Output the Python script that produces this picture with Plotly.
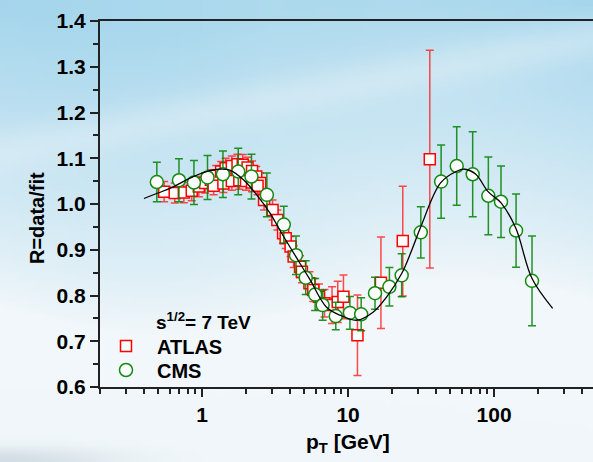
import numpy as np
import plotly.graph_objects as go
import zlib, struct, base64

# ---------------- data ----------------
cms_pt = [0.49, 0.695, 0.88, 1.09, 1.39, 1.77, 2.18, 2.78, 3.63, 4.4, 5.13, 5.95, 6.7,
          8.24, 10.3, 12.3, 15.3, 19.2, 23.3, 31.5, 43.4, 55.5, 71.4, 91.4, 111.6, 141.5, 182]
cms_r = [1.048, 1.052, 1.047, 1.058, 1.065, 1.071, 1.060, 1.020, 0.955, 0.888, 0.839, 0.802, 0.779,
         0.755, 0.762, 0.759, 0.805, 0.819, 0.844, 0.938, 1.049, 1.083, 1.065, 1.018, 1.005, 0.942, 0.832]
cms_err = [0.043, 0.047, 0.048, 0.048, 0.051, 0.051, 0.049, 0.048, 0.040, 0.042, 0.037, 0.035, 0.033,
           0.030, 0.036, 0.036, 0.035, 0.042, 0.047, 0.056, 0.080, 0.086, 0.093, 0.085, 0.078, 0.080, 0.098]

atlas_pt = [0.55, 0.65, 0.75, 0.85, 0.95, 1.05, 1.15, 1.25, 1.35, 1.45, 1.6, 1.75, 1.9, 2.05, 2.2, 2.35, 2.5,
            1.2, 1.4, 1.6, 1.8, 2.0, 2.2, 2.4,
            2.66, 3.04, 3.28, 3.59, 3.74, 4.04, 4.24, 4.69, 4.83, 5.44, 5.78, 6.32, 6.9, 7.77, 8.5, 9.3,
            11.6, 16.8, 23.7, 36.3]
atlas_r = [1.027, 1.024, 1.025, 1.029, 1.038, 1.046, 1.053, 1.062, 1.071, 1.078, 1.083, 1.087, 1.086, 1.080, 1.072, 1.060, 1.046,
           1.040, 1.045, 1.050, 1.052, 1.050, 1.047, 1.040,
           1.009, 0.987, 0.965, 0.936, 0.925, 0.907, 0.885, 0.863, 0.852, 0.827, 0.812, 0.797, 0.783, 0.779, 0.786, 0.797,
           0.713, 0.828, 0.919, 1.098]
atlas_err = [0.022, 0.022, 0.022, 0.022, 0.022, 0.022, 0.022, 0.022, 0.022, 0.022, 0.022, 0.022, 0.022, 0.022, 0.022, 0.022, 0.022,
             0.020, 0.020, 0.020, 0.020, 0.020, 0.020, 0.020,
             0.022, 0.022, 0.022, 0.022, 0.022, 0.022, 0.024, 0.024, 0.024, 0.025, 0.025, 0.028, 0.030, 0.040, 0.045, 0.048,
             0.088, 0.100, 0.120, 0.238]

fit_pt = [0.40, 0.50, 0.64, 0.87, 1.13, 1.30, 1.55, 1.92, 2.37, 2.92, 3.51, 4.69, 5.5, 7.1, 8.8, 11.5,
          14.9, 18.4, 23.3, 27.3, 31.5, 43, 55, 63, 75, 91, 112, 141, 182, 252]
fit_r = [1.012, 1.024, 1.038, 1.060, 1.073, 1.076, 1.074, 1.053, 1.020, 0.980, 0.936, 0.870, 0.834, 0.775, 0.757, 0.746,
         0.764, 0.797, 0.848, 0.899, 0.950, 1.046, 1.071, 1.076, 1.065, 1.027, 1.002, 0.947, 0.837, 0.772]

x_major = [1, 10, 100]
x_minor = [0.2, 0.3, 0.4, 0.5, 0.6, 0.7, 0.8, 0.9, 2, 3, 4, 5, 6, 7, 8, 9,
           20, 30, 40, 50, 60, 70, 80, 90, 200, 300, 400]

# ---------------- layout geometry ----------------
W, H = 593, 462
ML, MR, MT, MB = 100, 0, 21, 75
PW, PH = W - ML - MR, H - MT - MB
def px2x(px):
    return (px - ML) / PW
def px2y(py):
    return (H - MB - py) / PH

# decade = 146 px, x=1 at 202 px
x_lo = np.log10(0.2)
x_hi = x_lo + PW / 146.0

# ---------------- background (sky) ----------------
def sky_png(h=93, w=119):
    yy, xx = np.mgrid[0:h, 0:w]
    yy = yy / (h - 1); xx = xx / (w - 1)
    blue = np.array([163, 213, 236], float)
    white = np.array([241, 247, 250], float)
    t = np.clip((0.66 - yy + 0.06 * np.sin(xx * 6.0)) / 0.66, 0, 1) ** 0.85
    t = t * (0.85 + 0.15 * np.abs(xx - 0.45) / 0.55)
    img = white[None, None, :] * (1 - t[..., None]) + blue[None, None, :] * t[..., None]
    streak = np.exp(-((yy - 0.33 + 0.25 * xx) / 0.05) ** 2) * 0.35
    img = img * (1 - streak[..., None]) + white[None, None, :] * streak[..., None]
    g = np.exp(-((xx / 0.18) ** 2 + ((yy - 1.0) / 0.025) ** 2)) * 0.6
    grey = np.array([190, 205, 215], float)
    img = img * (1 - g[..., None]) + grey[None, None, :] * g[..., None]
    arr = np.clip(img, 0, 255).astype(np.uint8)
    raw = b''.join(b'\x00' + arr[i].tobytes() for i in range(h))
    def chunk(tag, data):
        c = struct.pack('>I', len(data)) + tag + data
        return c + struct.pack('>I', zlib.crc32(tag + data) & 0xffffffff)
    png = (b'\x89PNG\r\n\x1a\n' + chunk(b'IHDR', struct.pack('>IIBBBBB', w, h, 8, 2, 0, 0, 0))
           + chunk(b'IDAT', zlib.compress(raw, 9)) + chunk(b'IEND', b''))
    return 'data:image/png;base64,' + base64.b64encode(png).decode()

FONT = "Arial, 'Liberation Sans', sans-serif"
RED = '#ff0000'
GREEN = '#128a12'
LEGFONT = dict(size=20, family=FONT, color='black', weight='bold')

fig = go.Figure()
fig.add_trace(go.Scatter(
    x=atlas_pt, y=atlas_r, mode='markers', name='ATLAS', legend='legend',
    marker=dict(symbol='square', size=11, color='white', line=dict(color=RED, width=1.5)),
    error_y=dict(type='data', array=atlas_err, color='rgba(255,30,30,0.8)', thickness=1.5, width=4),
))
fig.add_trace(go.Scatter(
    x=cms_pt, y=cms_r, mode='markers', name='CMS', legend='legend2',
    marker=dict(symbol='circle', size=13, color='white', line=dict(color=GREEN, width=1.5)),
    error_y=dict(type='data', array=cms_err, color='rgba(0,128,0,0.85)', thickness=1.5, width=4),
))
fig.add_trace(go.Scatter(
    x=fit_pt, y=fit_r, mode='lines', showlegend=False,
    line=dict(color='black', width=1.3, shape='spline', smoothing=1.0),
))

leg_common = dict(xanchor='left', yanchor='middle', bgcolor='rgba(0,0,0,0)', borderwidth=0,
                  itemwidth=52, font=LEGFONT)

fig.update_layout(
    width=W, height=H,
    margin=dict(l=ML, r=MR, t=MT, b=MB, pad=0),
    paper_bgcolor='rgba(0,0,0,0)', plot_bgcolor='rgba(0,0,0,0)',
    font=dict(family=FONT, color='black'),
    showlegend=True,
    legend=dict(x=px2x(95), y=px2y(346), **leg_common),
    legend2=dict(x=px2x(95), y=px2y(370), **leg_common),
    images=[dict(source=sky_png(), xref='paper', yref='paper',
                 x=-ML / PW, y=1 + MT / PH, sizex=W / PW, sizey=H / PH,
                 sizing='stretch', xanchor='left', yanchor='top', layer='below')],
    annotations=[
        dict(text='s<sup>1/2</sup>= 7 TeV', x=px2x(154), y=px2y(321), xref='paper', yref='paper',
             xanchor='left', yanchor='middle', showarrow=False,
             font=dict(size=19, family=FONT, color='black', weight='bold')),
        dict(text='R=data/fit', x=px2x(37), y=px2y(218), xref='paper', yref='paper',
             xanchor='center', yanchor='middle', textangle=-90, showarrow=False,
             font=dict(size=20, family=FONT, color='black', weight='bold')),
        dict(text='p<sub>T</sub> [GeV]', x=px2x(348), y=px2y(443), xref='paper', yref='paper',
             xanchor='center', yanchor='middle', showarrow=False,
             font=dict(size=21, family=FONT, color='black', weight='bold')),
    ],
)

fig.update_xaxes(
    type='log', range=[x_lo, x_hi], showgrid=False, zeroline=False,
    showline=True, linecolor='#222222', linewidth=2, mirror=True,
    ticks='outside', ticklen=8, tickwidth=1.5, tickcolor='#222222',
    tickmode='array', tickvals=x_major, ticktext=[str(v) for v in x_major],
    tickfont=dict(size=21, family=FONT, color='black', weight='bold'),
    minor=dict(ticks='outside', ticklen=5, tickwidth=1.5, tickcolor='#222222',
               tickmode='array', tickvals=x_minor, showgrid=False),
)
fig.update_yaxes(
    range=[0.6, 1.4], showgrid=False, zeroline=False,
    showline=True, linecolor='#222222', linewidth=2, mirror=False,
    ticks='outside', ticklen=8, tickwidth=1.5, tickcolor='#222222',
    tick0=0.6, dtick=0.1, tickformat='.1f',
    tickfont=dict(size=21, family=FONT, color='black', weight='bold'),
    minor=dict(ticks='outside', ticklen=5, tickwidth=1.5, tickcolor='#222222',
               dtick=0.05, showgrid=False),
)

fig.write_html('out.html')
